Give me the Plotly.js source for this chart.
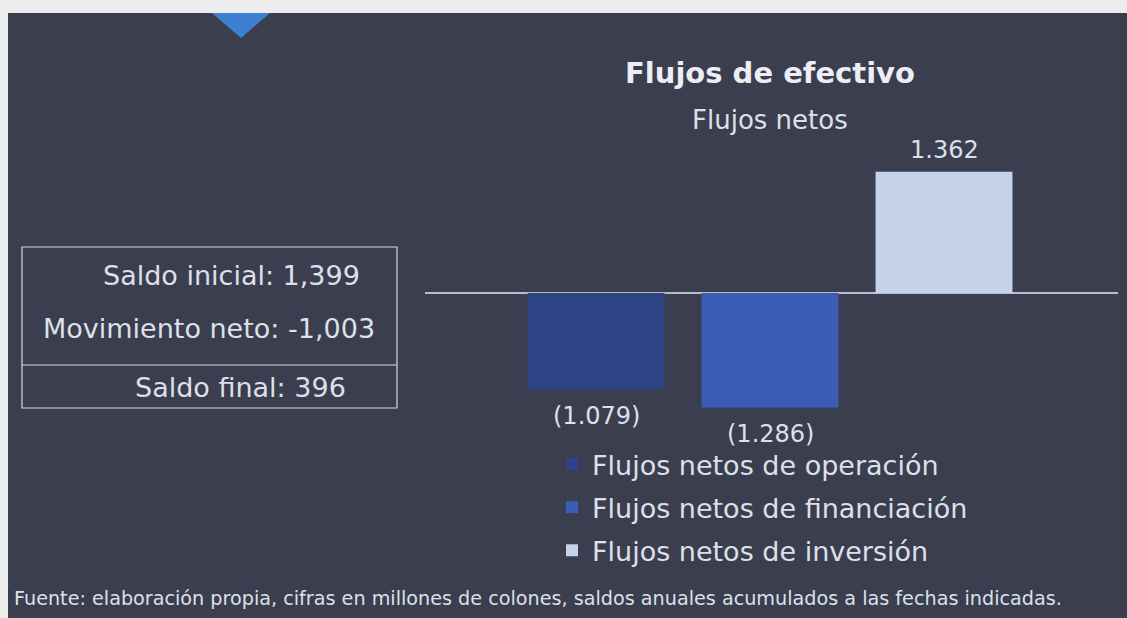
<!DOCTYPE html>
<html>
<head>
<meta charset="utf-8">
<script src="https://cdn.plot.ly/plotly-3.0.1.min.js"></script>
<style>
  html, body { margin: 0; padding: 0; background: #ececec; }
  #chart { width: 1127px; height: 618px; }
</style>
</head>
<body>
<div id="chart"></div>
<script>
// ---- data ----
const categories = ["Flujos netos de operación", "Flujos netos de financiación", "Flujos netos de inversión"];
const values = [-1079, -1286, 1362];
const valueLabels = ["(1.079)", "(1.286)", "1.362"];
const barColors = ["#2e4384", "#3c5db6", "#c4d2ea"];
const boxLines = ["Saldo inicial: 1,399", "Movimiento neto: -1,003", "Saldo final: 396"];
const chartTitle = "Flujos de efectivo";
const chartSubtitle = "Flujos netos";
const footnote = "Fuente: elaboración propia, cifras en millones de colones, saldos anuales acumulados a las fechas indicadas.";

// ---- layout helpers (pixel -> paper) ----
const W = 1127, H = 618;
const PL = 425, PR = 1118, PT = 140, PB = 420;
const px = x => (x - PL) / (PR - PL);
const py = y => (PB - y) / (PB - PT);

const FONT = "DejaVu Sans, Verdana, sans-serif";
const TXT = "#dde0e8";

const traces = categories.map((c, i) => ({
  type: "bar",
  name: c,
  x: [c],
  y: [values[i]],
  width: 0.787,
  marker: { color: barColors[i], line: { width: 0 } },
  legendgroup: "g" + i,
  hoverinfo: "skip"
}));

const annotations = [];
// value labels, anchored to data through the axes
categories.forEach((c, i) => {
  const neg = values[i] < 0;
  annotations.push({
    x: c, y: values[i], xref: "x", yref: "y",
    text: valueLabels[i], showarrow: false, xanchor: "center",
    yanchor: neg ? "top" : "bottom",
    yshift: neg ? -11 : 6,
    font: { family: FONT, size: 24, color: TXT }
  });
});
// title & subtitle
annotations.push({
  x: px(770), y: py(73), xref: "paper", yref: "paper", showarrow: false,
  xanchor: "center", yanchor: "middle",
  text: "<b>" + chartTitle + "</b>", font: { family: FONT, size: 29, color: "#eceef3" }
});
annotations.push({
  x: px(770), y: py(120), xref: "paper", yref: "paper", showarrow: false,
  xanchor: "center", yanchor: "middle",
  text: chartSubtitle, font: { family: FONT, size: 26, color: TXT }
});
// box lines
const boxPos = [[231, 275], [209, 328], [240, 387]];
boxLines.forEach((t, i) => {
  annotations.push({
    x: px(boxPos[i][0]), y: py(boxPos[i][1]), xref: "paper", yref: "paper", showarrow: false,
    xanchor: "center", yanchor: "middle",
    text: t, font: { family: FONT, size: 27, color: TXT }
  });
});
// footnote
annotations.push({
  x: px(12), y: py(598), xref: "paper", yref: "paper", showarrow: false,
  xanchor: "left", yanchor: "middle", text: footnote, font: { family: FONT, size: 19.2, color: TXT }
});

const shapes = [
  // dark slide
  { type: "rect", xref: "paper", yref: "paper", layer: "below",
    x0: px(8), x1: px(1127), y0: py(618), y1: py(13),
    fillcolor: "#3a3e4e", line: { width: 0 } },
  // blue triangle
  { type: "path", xref: "paper", yref: "paper", layer: "below",
    path: `M ${px(212)} ${py(13)} L ${px(270)} ${py(13)} L ${px(241)} ${py(38)} Z`,
    fillcolor: "#3f7fd2", line: { width: 0 } },
  // text box
  { type: "rect", xref: "paper", yref: "paper",
    x0: px(22), x1: px(397), y0: py(408), y1: py(247),
    fillcolor: "rgba(0,0,0,0)", line: { color: "#d6d9e2", width: 1.2 } },
  { type: "line", xref: "paper", yref: "paper",
    x0: px(22), x1: px(397), y0: py(365), y1: py(365),
    line: { color: "#d6d9e2", width: 1.2 } }
];

const layout = {
  width: W, height: H,
  margin: { l: PL, r: W - PR, t: PT, b: H - PB, pad: 0 },
  paper_bgcolor: "#ececec",
  plot_bgcolor: "rgba(0,0,0,0)",
  barmode: "overlay",
  showlegend: true,
  legend: {
    x: px(552), y: py(440), xanchor: "left", yanchor: "top",
    bgcolor: "rgba(0,0,0,0)", borderwidth: 0,
    font: { family: FONT, size: 27, color: TXT },
    tracegroupgap: 5, traceorder: "grouped"
  },
  xaxis: { type: "category", range: [-0.983, 3.0], visible: false, fixedrange: true },
  yaxis: {
    range: [-1427, 1719], showgrid: false, showticklabels: false, ticks: "",
    zeroline: true, zerolinecolor: "#b9bdc9", zerolinewidth: 1.5, showline: false
  },
  annotations, shapes
};

Plotly.newPlot("chart", traces, layout, { displayModeBar: false, staticPlot: true });
</script>
</body>
</html>
